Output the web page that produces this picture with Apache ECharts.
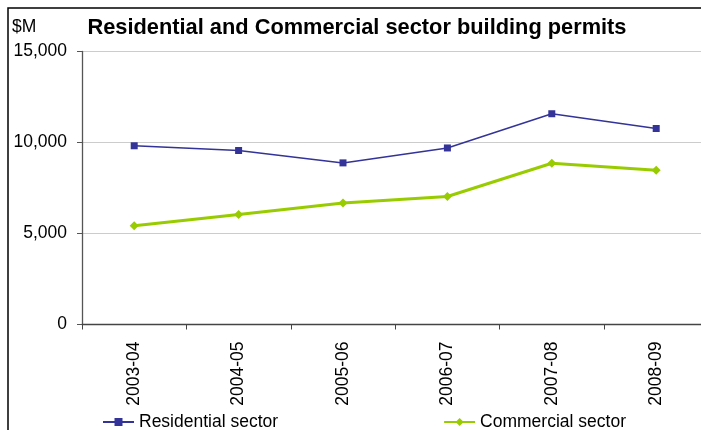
<!DOCTYPE html>
<html>
<head>
<meta charset="utf-8">
<script src="https://cdn.jsdelivr.net/npm/echarts@6/dist/echarts.min.js"></script>
<style>
  html, body { margin: 0; padding: 0; background: #fff; }
  #chart { width: 701px; height: 430px; }
</style>
</head>
<body>
<div id="chart"></div>
<script>
// Building permits by financial year ($M)
const years = ['2003-04', '2004-05', '2005-06', '2006-07', '2007-08', '2008-09'];
const residential = [9820, 9560, 8880, 9700, 11580, 10770];
const commercial = [5420, 6040, 6670, 7030, 8860, 8480];
const yTicks = { min: 0, max: 15000, step: 5000 };

const FONT = "'Liberation Sans', Arial, sans-serif";

const chart = echarts.init(document.getElementById('chart'), null, { renderer: 'canvas' });

chart.setOption({
  backgroundColor: '#ffffff',
  animation: false,
  textStyle: { fontFamily: FONT, color: '#000' },
  graphic: [
    {
      type: 'rect',
      shape: { x: 8, y: 8, width: 800, height: 500 },
      style: { fill: 'none', stroke: '#000', lineWidth: 1.5 },
      silent: true
    },
    {
      type: 'text',
      x: 12, y: 27,
      style: { text: '$M', fontFamily: FONT, fontSize: 17.5, fill: '#000', verticalAlign: 'middle' }
    },
    {
      type: 'text',
      x: 87.5, y: 28,
      style: {
        text: 'Residential and Commercial sector building permits',
        fontFamily: FONT, fontSize: 21.8, fontWeight: 'bold', fill: '#000', verticalAlign: 'middle'
      }
    }
  ],
  grid: {
    left: 82, top: 51.5, width: 626.4, height: 273,
    containLabel: false, outerBoundsMode: 'none'
  },
  legend: {
    left: 97, top: 408,
    itemWidth: 31, itemHeight: 10, itemGap: 165,
    textStyle: { fontFamily: FONT, fontSize: 17.5, color: '#000' },
    data: ['Residential sector', 'Commercial sector']
  },
  xAxis: {
    type: 'category',
    data: years,
    boundaryGap: true,
    axisLine: { lineStyle: { color: '#444', width: 1.3 } },
    axisTick: { show: true, inside: false, length: 5, alignWithLabel: false, lineStyle: { color: '#444' } },
    axisLabel: { rotate: 90, margin: 17, fontFamily: FONT, fontSize: 17.5, color: '#000' },
    splitLine: { show: false }
  },
  yAxis: {
    type: 'value',
    min: yTicks.min, max: yTicks.max, interval: yTicks.step,
    axisLine: { show: true, lineStyle: { color: '#555', width: 1.3 } },
    axisTick: { show: true, inside: false, length: 5, lineStyle: { color: '#555' } },
    axisLabel: {
      margin: 15, fontFamily: FONT, fontSize: 17.5, color: '#000',
      padding: [3, 0, 0, 0],
      formatter: v => v.toLocaleString('en-US')
    },
    splitLine: { show: true, lineStyle: { color: '#cccccc', width: 1 } }
  },
  series: [
    {
      name: 'Residential sector',
      type: 'line',
      data: residential,
      symbol: 'rect', symbolSize: 7,
      lineStyle: { color: '#333399', width: 1.5 },
      itemStyle: { color: '#333399' }
    },
    {
      name: 'Commercial sector',
      type: 'line',
      data: commercial,
      symbol: 'diamond', symbolSize: 9,
      lineStyle: { color: '#99cc00', width: 3 },
      itemStyle: { color: '#99cc00' }
    }
  ]
});
</script>
</body>
</html>
